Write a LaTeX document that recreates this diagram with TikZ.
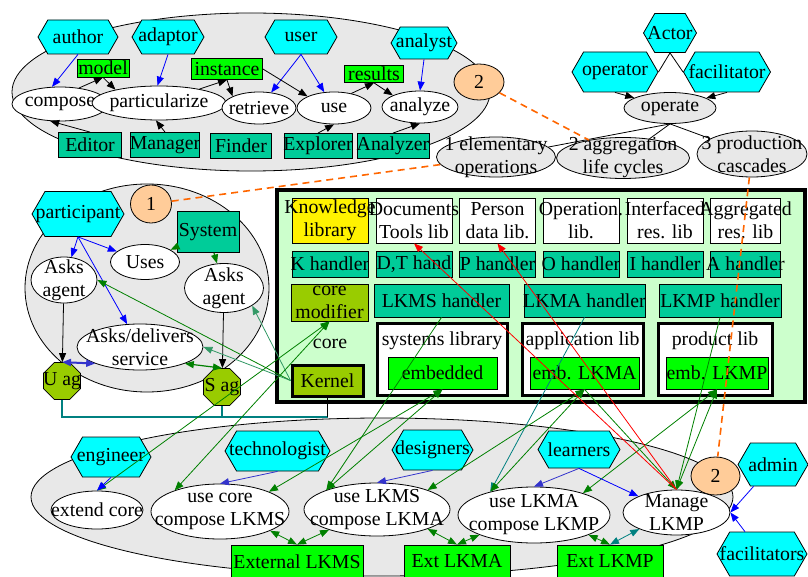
\documentclass[tikz,border=0pt]{standalone}
\usepackage{fontspec}
\setmainfont{Liberation Serif}
\usetikzlibrary{shapes.geometric,shapes.symbols,arrows.meta}

\definecolor{hexcyan}{HTML}{00FFFF}
\definecolor{brightgreen}{HTML}{00FF00}
\definecolor{tealbox}{HTML}{00CC99}
\definecolor{olivebox}{HTML}{99CC00}
\definecolor{peach}{HTML}{FFCC99}
\definecolor{graybg}{HTML}{E8E8E8}
\definecolor{framegreen}{HTML}{CCFFCC}
\definecolor{bluec}{HTML}{0000FF}
\definecolor{bluem}{HTML}{3333CC}
\definecolor{dkgreen}{HTML}{008000}
\definecolor{seagr}{HTML}{339966}
\definecolor{tealline}{HTML}{008080}
\definecolor{redline}{HTML}{FF0000}
\definecolor{orangedash}{HTML}{FF6600}

\newcommand\dfont{\fontsize{19.8}{23}\selectfont}

\begin{document}
\begin{tikzpicture}[x=1pt,y=-1pt,font=\dfont,
  >={Triangle[length=9pt,width=7pt]},
  lbl/.style={align=center,inner sep=0pt,font=\dfont},
  T/.style={label={[lbl]center:#1}},
  sz/.style 2 args={minimum width=#1pt,minimum height=#2pt},
  ell/.style={ellipse,draw,fill=white,inner sep=0pt,line width=0.8pt},
  hexa/.style={signal,signal to=east and west,signal pointer angle=120,
               draw,fill=hexcyan,inner sep=0pt,line width=0.8pt},
  octa/.style={regular polygon,regular polygon sides=8,minimum size=40pt,
               draw,fill=olivebox,inner sep=0pt,line width=0.8pt},
  box/.style={rectangle,draw,inner sep=0pt,line width=0.8pt},
  libbox/.style={rectangle,draw,fill=white,inner sep=0pt,line width=3pt},
  plain/.style={line width=0.8pt},
  odash/.style={draw=orangedash,line width=1.6pt,dash pattern=on 7pt off 5pt}]

\useasboundingbox (0,0) rectangle (808,577);

% clusters
\node[ell,fill=graybg,sz={478}{158}] (clA) at (251,92) {};
\node[ell,fill=graybg,sz={244}{208}] (clB) at (147,288) {};
\node[ell,fill=graybg,sz={702}{158}] (clC) at (382,497) {};
\node[rectangle,draw,line width=4.5pt,fill=framegreen,sz={528}{212}] (lkm) at (541,296) {};

% ---- authoring cluster
\node[hexa,sz={80}{34},T=author] (author) at (78,37) {};
\node[hexa,sz={72}{34},T=adaptor] (adaptor) at (168,37) {};
\node[hexa,sz={72}{34},T=user] (user) at (301,37) {};
\node[hexa,sz={66}{32},T=analyst] (analyst) at (424,43) {};
\node[box,fill=brightgreen,sz={52}{18},T=model] (model) at (103,68) {};
\node[box,fill=brightgreen,sz={71}{21},T=instance] (instance) at (227,69) {};
\node[box,fill=brightgreen,sz={59}{17},T=results] (results) at (374,74) {};
\node[ell,sz={96}{34},T=compose] (compose) at (60,104) {};
\node[ell,sz={134}{34},T=particularize] (partic) at (159,103) {};
\node[ell,sz={74}{32},T=retrieve] (retrieve) at (259,108) {};
\node[ell,sz={74}{32},T=use] (use) at (334,108) {};
\node[ell,sz={76}{32},T=analyze] (analyze) at (420,107) {};
\node[box,fill=tealbox,sz={63}{25},T=Editor] (editor) at (90,145) {};
\node[box,fill=tealbox,sz={69}{25},T=Manager] (manager) at (165,145) {};
\node[box,fill=tealbox,sz={61}{25},T=Finder] (finder) at (241,146) {};
\node[box,fill=tealbox,sz={68}{25},T=Explorer] (explorer) at (318,146) {};
\node[box,fill=tealbox,sz={72}{25},T=Analyzer] (analyzer) at (393,146) {};
\node[ell,fill=peach,sz={50}{36},T=2] (twoA) at (479,82) {};

% ---- actor hierarchy
\node[hexa,sz={53}{39},T=Actor] (actor) at (670,33) {};
\node[hexa,sz={86}{40},T=operator] (operator) at (615,72) {};
\node[hexa,sz={87}{40},T=facilitator] (facil) at (727,72) {};
\node[ell,fill=graybg,sz={92}{31},T=operate] (operate) at (670,108) {};
\node[ell,fill=graybg,sz={119}{40},T={1 elementary\\operations}] (elem) at (496,157) {};
\node[ell,fill=graybg,sz={133}{41},T={2 aggregation\\life cycles}] (aggr) at (623,158) {};
\node[ell,fill=graybg,sz={110}{46},T={3 production\\cascades}] (prod) at (752,154) {};

% ---- participant cluster
\node[ell,fill=peach,sz={41}{38},T=1] (one) at (151,204) {};
\node[hexa,sz={92}{45},T=participant] (partp) at (78,214) {};
\node[box,fill=tealbox,sz={62}{41},T=System] (system) at (208,232) {};
\node[ell,sz={69}{35},T=Uses] (uses) at (145,262) {};
\node[ell,sz={66}{46},T={Asks\\agent}] (asksL) at (64,280) {};
\node[ell,sz={79}{49},T={Asks\\agent}] (asksR) at (224,288) {};
\node[ell,sz={126}{46},T={Asks/delivers\\service}] (asksdel) at (140,347) {};
\node[octa,T={U ag}] (uag) at (62,381) {};
\node[octa,T={S ag}] (sag) at (222,387) {};

% ---- libraries frame
\node[box,fill=yellow,sz={76}{45},T={Knowledge\\library}] (know) at (330,220.5) {};
\node[box,fill=white,sz={76}{45},T={Documents\\Tools lib}] (docs) at (414,220.5) {};
\node[box,fill=white,sz={76}{45},T={Person\\data lib.}] (person) at (497.5,220.5) {};
\node[box,fill=white,sz={76}{45},T={Operation.\\lib.}] (operlib) at (581,220.5) {};
\node[box,fill=white,sz={76}{45},T={Interfaced\\res. lib}] (interf) at (665,220.5) {};
\node[box,fill=white,sz={70}{45},T={Aggregated\\res. lib}] (aggres) at (745.5,220.5) {};
\node[box,fill=tealbox,sz={76}{26},T={K handler}] (kh) at (330,264) {};
\node[box,fill=tealbox,sz={76}{26},T={D,T hand}] (dth) at (414,264) {};
\node[box,fill=tealbox,sz={76}{26},T={P handler}] (ph) at (497.5,264) {};
\node[box,fill=tealbox,sz={76}{26},T={O handler}] (oh) at (581,264) {};
\node[box,fill=tealbox,sz={76}{26},T={I handler}] (ih) at (665,264) {};
\node[box,fill=tealbox,sz={70}{26},T={A handler}] (ah) at (745.5,264) {};
\node[box,fill=olivebox,sz={77}{37},T={core\\modifier}] (coremod) at (329.5,302.5) {};
\node[box,fill=tealbox,sz={135}{33},T={LKMS handler}] (lkmsh) at (441.5,300.5) {};
\node[box,fill=tealbox,sz={121}{33},T={LKMA handler}] (lkmah) at (584.5,300.5) {};
\node[box,fill=tealbox,sz={122}{33},T={LKMP handler}] (lkmph) at (720,300.5) {};
\node[lbl] (coretxt) at (330,344) {core};
\node[box,fill=olivebox,line width=3pt,sz={71}{31},T=Kernel] (kernel) at (327.5,380.5) {};
\node[libbox,sz={130}{72}] (syslib) at (442,359) {};
\node[libbox,sz={121}{72}] (applib) at (582.5,359) {};
\node[libbox,sz={114}{72}] (prodlib) at (715,359) {};
\node[lbl] (syslibtxt) at (442,341) {systems library};
\node[lbl] (applibtxt) at (582.5,341) {application lib};
\node[lbl] (prodlibtxt) at (715,341) {product lib};
\node[box,fill=brightgreen,sz={109}{32},T=embedded] (embedded) at (442.5,373) {};
\node[box,fill=brightgreen,sz={109}{32},T={emb. LKMA}] (embLKMA) at (584.5,373) {};
\node[box,fill=brightgreen,sz={102}{32},T={emb. LKMP}] (embLKMP) at (717,373) {};

% ---- usage cluster
\node[hexa,sz={80}{40},T=engineer] (engineer) at (111,457) {};
\node[hexa,sz={105}{40},T=technologist] (techn) at (277.5,451) {};
\node[hexa,sz={81}{40},T=designers] (design) at (432.5,450) {};
\node[hexa,sz={82}{37},T=learners] (learn) at (579,449.5) {};
\node[hexa,sz={70}{43},T=admin] (admin) at (773,464.5) {};
\node[hexa,sz={90}{44},T=facilitators] (facilit) at (762,554) {};
\node[ell,fill=peach,sz={49}{38},T=2] (twoB) at (715.5,476) {};
\node[ell,sz={92}{38},T={extend core}] (extcore) at (97,510) {};
\node[ell,sz={138}{55},T={use core\\compose LKMS}] (usecore) at (220,511.5) {};
\node[ell,sz={146}{53},T={use LKMS\\compose LKMA}] (uselkms) at (377,509.5) {};
\node[ell,sz={152}{56},T={use LKMA\\compose LKMP}] (uselkma) at (534,515) {};
\node[ell,sz={107}{45},T={Manage\\LKMP}] (manage) at (676.5,512.5) {};
\node[box,fill=brightgreen,sz={132}{33},T={External LKMS}] (extLKMS) at (297,561.5) {};
\node[box,fill=brightgreen,sz={106}{33},T={Ext LKMA}] (extLKMA) at (457,561.5) {};
\node[box,fill=brightgreen,sz={106}{33},T={Ext LKMP}] (extLKMP) at (610,561.5) {};

% ================= connectors
% authoring
\draw[->,plain,bluec] (author.south) -- (compose.115);
\draw[->,plain,bluec] (adaptor.south) -- (partic.95);
\draw[->,plain,bluec] (user.south) -- (retrieve);
\draw[->,plain,bluec] (user.south) -- (use);
\draw[->,plain,bluec] (analyst.south) -- (analyze.north);
\draw[->,plain] (compose.40) -- (model.south);
\draw[->,plain] (model.south) -- (partic.163);
\draw[->,plain] (partic.19) -- (instance.south);
\draw[->,plain] (instance.south) -- (retrieve.north west);
\draw[->,plain] (instance.east) -- (use.north west);
\draw[->,plain] (use.40) -- (results.south);
\draw[->,plain] (results.south) -- (analyze.north west);
\draw[->,plain] (editor.north) -- (compose.-120);
\draw[->,plain] (manager.north) -- (partic.-100);
\draw[->,plain] (explorer.north) -- (use.south);
\draw[->,plain] (analyzer.north) -- (analyze.south);

% actor hierarchy
\draw[plain] (actor.south) -- (operator.east);
\draw[plain] (actor.south) -- (facil.west);
\draw[->,plain] (operator.south) -- (operate);
\draw[->,plain] (facil.south) -- (operate);
\draw[plain] (operate.south) -- (elem);
\draw[plain] (operate.south) -- (aggr);
\draw[plain] (operate.south) -- (prod);

% participant cluster
\draw[->,plain,bluec] (partp.south) -- (asksL);
\draw[->,plain,bluec] (partp.south) -- (uses);
\draw[->,plain,bluec] (partp.south) -- (asksdel);
\draw[->,dkgreen,line width=1.2pt] (system) -- (uses);
\draw[->,dkgreen,line width=1.2pt] (system) -- (asksR);
\draw[->,plain] (asksL) -- (uag);
\draw[->,plain] (asksR) -- (sag);
\draw[<->,bluem,line width=2pt] (uag.north) -- (asksdel.south west);
\draw[<->,dkgreen,line width=1.2pt] (asksdel.south east) -- (sag.north);

% kernel links
\coordinate (bus) at (327.5,417);
\draw[tealline,line width=1.2pt] (uag.south) |- (bus);
\draw[tealline,line width=1.2pt] (sag.south) -- (sag.south |- bus);
\draw[plain] (kernel.south) -- (bus);
\draw[->,plain,dkgreen] (kernel.west) -- (asksL.east);
\draw[->,plain,seagr] (kernel.west) -- (asksdel.east);
\draw[->,plain,seagr] (kernel.west) -- (asksR.south east);

% library links
\draw[<->,plain,dkgreen] (coremod.south) -- (extcore.north);
\draw[<->,plain,dkgreen] (coremod.south) -- (usecore.155);
\draw[<->,plain,dkgreen] (embedded.south) -- (usecore.22);
\draw[<->,plain,dkgreen] (embedded.south) -- (uselkms.159);
\draw[->,plain,dkgreen] (lkmsh.south) -- (uselkms.159);
\draw[->,plain,tealline] (lkmah.south) -- (uselkma.152);
\draw[<->,plain,dkgreen] (embLKMA.south) -- (uselkms.21);
\draw[<->,plain,dkgreen] (embLKMA.south) -- (uselkma.152);
\draw[->,plain,dkgreen] (embLKMA.south) -- (manage.north);
\draw[<->,plain,dkgreen] (embLKMP.south) -- (uselkma.24);
\draw[<->,plain,dkgreen] (embLKMP.south) -- (manage.north);
\draw[->,plain,dkgreen] (lkmph.south) -- (manage.north);
\draw[->,plain,redline] (manage.north) -- (docs.south);
\draw[->,plain,redline] (manage.north) -- (person.south);

% usage cluster
\draw[->,plain,bluec] (engineer.south) -- (extcore.north);
\draw[->,plain,bluem] (techn.south) -- (usecore.north);
\draw[->,plain,bluem] (design.south) -- (uselkms.north);
\draw[->,plain,bluem] (learn.south) -- (uselkma.north);
\draw[->,plain,bluec] (learn.south) -- (manage.north west);
\draw[->,plain,bluec] (admin) -- (manage.east);
\draw[->,plain,bluec] (facilit) -- (manage.east);
\draw[<->,plain,dkgreen] (usecore.-21) -- (extLKMS.north);
\draw[<->,plain,dkgreen] (extLKMS.north) -- (uselkms.203);
\draw[<->,plain,dkgreen] (uselkms.-21) -- (extLKMA.north);
\draw[<->,plain,dkgreen] (extLKMA.north) -- (uselkma.200);
\draw[<->,plain,dkgreen] (uselkma.-20) -- (extLKMP.north);
\draw[<->,plain,tealline] (extLKMP.north) -- (manage.204);

% cross references
\draw[odash] (twoA) -- (aggr);
\draw[odash] (one) -- (elem);
\draw[odash] (prod) -- (twoB);
\end{tikzpicture}
\end{document}
